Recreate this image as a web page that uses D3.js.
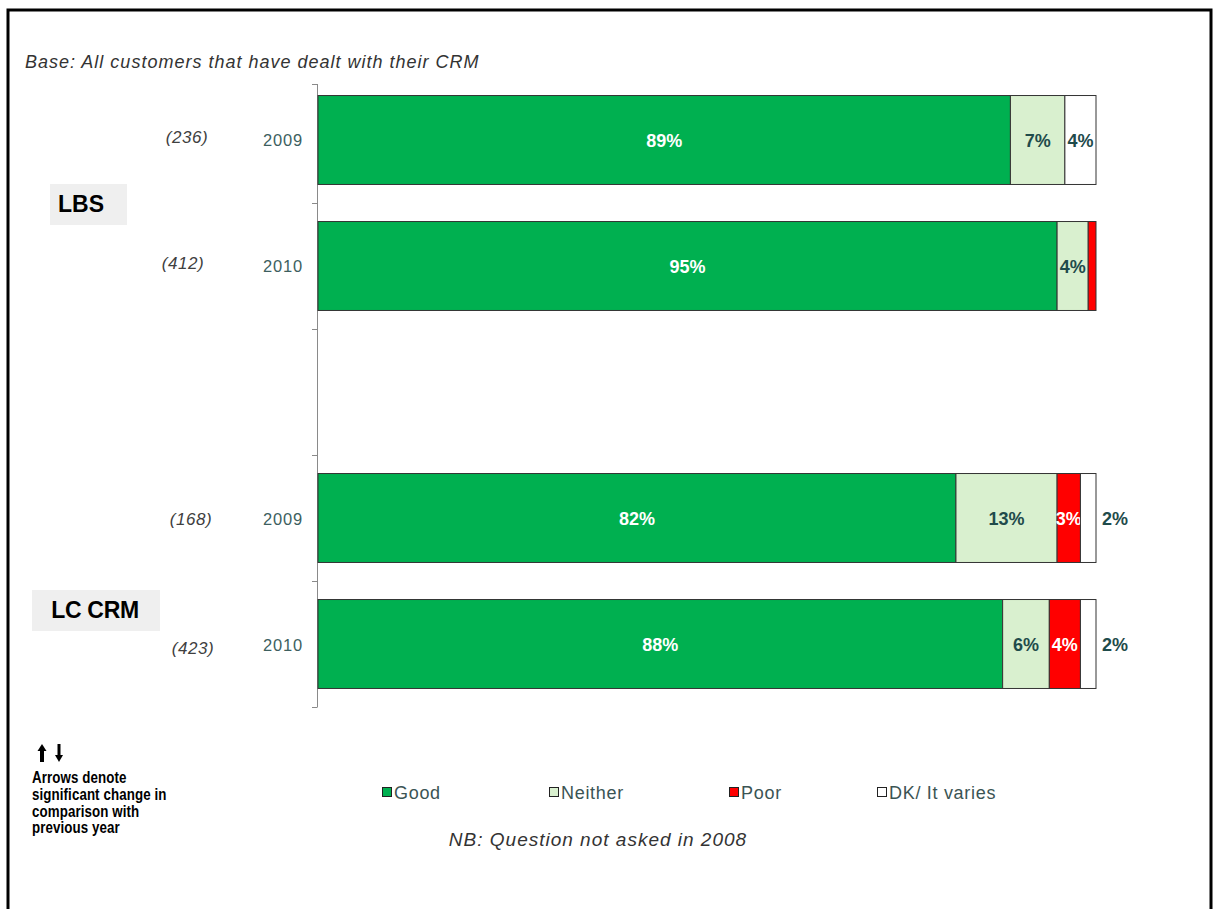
<!DOCTYPE html>
<html><head><meta charset="utf-8">
<script src="https://cdn.jsdelivr.net/npm/d3@7"></script>
<style>
body{margin:0;background:#fff;}
svg{display:block;font-family:"Liberation Sans",Arial,sans-serif;}
</style></head>
<body><svg id="c" width="1217" height="909"></svg>
<script>
const rows = ["LBS 2009","LBS 2010","gap","LC CRM 2009","LC CRM 2010"];
const years = ["2009","2010","","2009","2010"];
const bases = ["(236)","(412)","","(168)","(423)"];
const groups = ["LBS","LC CRM"];
const seriesNames = ["Good","Neither","Poor","DK/ It varies"];
const good    = [89,95,null,82,88];
const neither = [7,4,null,13,6];
const poor    = [0,1,null,3,4];
const dk      = [4,0,null,2,2];
const colors = ["#00B050","#D9F0CF","#FF0000","#FFFFFF"];
const labelColors = ["#FFFFFF","#1F4B4B","#FFFFFF","#1F4B4B"];

const svg = d3.select("#c");
svg.append("rect").attr("x",8).attr("y",10).attr("width",1203).attr("height",920)
  .attr("fill","none").attr("stroke","#000").attr("stroke-width",3);

const y = d3.scaleBand().domain(rows).range([77,707]).paddingInner(0.294).paddingOuter(0.147);
const x = d3.scaleLinear().domain([0,100]).range([318,1096]);

svg.append("line").attr("x1",317.5).attr("x2",317.5).attr("y1",84).attr("y2",707)
  .attr("stroke","#8a8a8a").attr("stroke-width",1);
const bounds = rows.map(r=>y(r)-y.step()*y.paddingInner()/2).concat([707]);
bounds[0]=84;
svg.selectAll(".tk").data(bounds).join("line")
  .attr("x1",312).attr("x2",317.5).attr("y1",d=>d+0.5).attr("y2",d=>d+0.5)
  .attr("stroke","#8a8a8a");

const seriesVals = [good,neither,poor,dk];
const dataRows = rows.map((r,i)=>({row:r, vals:seriesVals.map(s=>s[i])})).filter(d=>d.vals[0]!==null);

dataRows.forEach(d=>{
  let cum=0;
  d.vals.forEach((v,si)=>{
    const x0 = x(cum), x1 = x(cum+v);
    cum += v;
    if(v>0){
      svg.append("rect").attr("x",x0).attr("y",y(d.row)).attr("width",x1-x0).attr("height",y.bandwidth())
        .attr("fill",colors[si]).attr("stroke","#333").attr("stroke-width",1);
    }
    if(v>1){
      let lx=(x0+x1)/2;
      if(si===3 && v<3) lx = x(100)+19;
      svg.append("text").attr("x",lx).attr("y",y(d.row)+y.bandwidth()/2+6.5)
        .attr("text-anchor","middle").attr("font-weight","bold").attr("font-size",18)
        .attr("fill",labelColors[si]).text(v+"%");
    }
  });
});

// year labels and bases
const baseX = [187,183,0,191,193], baseDy = [2.6,2.6,0,6.6,9.6], yearDy=[5.5,6,0,7,6.5];
rows.forEach((r,i)=>{
  if(!years[i]) return;
  const cy = y(r)+y.bandwidth()/2;
  svg.append("text").attr("x",283).attr("y",cy+yearDy[i]).attr("text-anchor","middle")
    .attr("font-size",16.5).attr("letter-spacing",0.8).attr("fill","#3D5F5F").text(years[i]);
  svg.append("text").attr("x",baseX[i]).attr("y",cy+baseDy[i]).attr("text-anchor","middle")
    .attr("font-size",17).attr("letter-spacing",0.6).attr("font-style","italic").attr("fill","#404040").text(bases[i]);
});

// group labels
const gBoxes = [{x:50,y:184,w:77,h:41,cx:81,cy:212},{x:32,y:590,w:128,h:41,cx:95,cy:618}];
groups.forEach((g,i)=>{
  const b=gBoxes[i];
  svg.append("rect").attr("x",b.x).attr("y",b.y).attr("width",b.w).attr("height",b.h).attr("fill","#EFEFEF");
  svg.append("text").attr("x",b.cx).attr("y",b.cy).attr("text-anchor","middle")
    .attr("font-size",23).attr("font-weight","bold").attr("fill","#000").attr("letter-spacing",i===1?-0.3:0).text(g);
});

svg.append("text").attr("x",25).attr("y",68).attr("font-size",18).attr("font-style","italic")
  .attr("fill","#333").attr("letter-spacing",1.0).text("Base: All customers that have dealt with their CRM");

// legend
const legX=[382,549,729,877];
seriesNames.forEach((n,i)=>{
  svg.append("rect").attr("x",legX[i]+0.5).attr("y",787.5).attr("width",9).attr("height",9)
    .attr("fill",colors[i]).attr("stroke","#222").attr("stroke-width",1);
  svg.append("text").attr("x",legX[i]+12).attr("y",799).attr("font-size",18)
    .attr("fill","#3B5454").attr("letter-spacing",0.7).text(n);
});

// arrows note
const arr = svg.append("g");
[[42,-1],[59,1]].forEach(([ax,dir])=>{
  const top=744, bot=762;
  if(dir<0){
    arr.append("path").attr("d",`M${ax-4.5},${top+7}L${ax},${top}L${ax+4.5},${top+7}Z`).attr("fill","#000");
    arr.append("rect").attr("x",ax-2).attr("y",top+6).attr("width",4).attr("height",bot-top-6).attr("fill","#000");
  } else {
    arr.append("rect").attr("x",ax-1.5).attr("y",top).attr("width",3).attr("height",bot-top-6).attr("fill","#000");
    arr.append("path").attr("d",`M${ax-4},${bot-7}L${ax},${bot}L${ax+4},${bot-7}Z`).attr("fill","#000");
  }
});
const noteLines=["Arrows denote","significant change in","comparison with","previous year"];
noteLines.forEach((t,i)=>{
  svg.append("text").attr("transform",`translate(32,${783+i*16.8}) scale(0.92,1.1)`)
    .attr("font-size",14.5).attr("font-weight","bold")
    .attr("fill","#000").attr("letter-spacing",0.1).text(t);
});

svg.append("text").attr("x",598).attr("y",846).attr("text-anchor","middle").attr("font-size",19)
  .attr("font-style","italic").attr("fill","#333").attr("letter-spacing",1.0).text("NB: Question not asked in 2008");
</script></body></html>
